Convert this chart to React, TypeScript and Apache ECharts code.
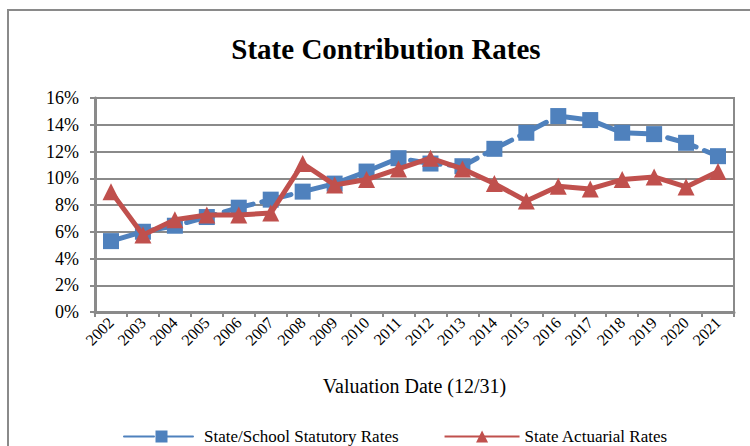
import React, { useEffect, useRef } from "react";
import * as echarts from "echarts";

const years = ["2002","2003","2004","2005","2006","2007","2008","2009","2010","2011","2012","2013","2014","2015","2016","2017","2018","2019","2020","2021"];
const statutoryRates = [5.3, 6.0, 6.45, 7.1, 7.8, 8.4, 9.0, 9.6, 10.5, 11.5, 11.1, 10.9, 12.2, 13.4, 14.65, 14.35, 13.4, 13.3, 12.65, 11.65];
const actuarialRates = [9.0, 5.75, 6.9, 7.25, 7.25, 7.4, 11.1, 9.5, 9.9, 10.7, 11.5, 10.7, 9.6, 8.3, 9.4, 9.2, 9.9, 10.1, 9.35, 10.5];
const yTicks = { min: 0, max: 16, interval: 2 };

const SERIF = "Liberation Serif";

export default function App() {
  const ref = useRef<HTMLDivElement>(null);
  useEffect(() => {
    if (!ref.current) return;
    const chart = echarts.init(ref.current, null, { renderer: "svg" });
    chart.setOption({
      animation: false,
      backgroundColor: "#ffffff",
      textStyle: { fontFamily: SERIF, color: "#000" },
      title: {
        text: "State Contribution Rates",
        left: 381,
        textAlign: "center",
        top: 29,
        textStyle: { fontFamily: SERIF, fontWeight: "bold", fontSize: 29, color: "#000" },
      },
      graphic: [
        {
          type: "rect",
          shape: { x: 8, y: 10, width: 800, height: 500 },
          style: { fill: "none", stroke: "#8a8a8a", lineWidth: 2 },
          silent: true,
        },
      ],
      grid: {
        left: 95,
        right: 16,
        top: 98,
        bottom: 134,
        show: true,
        borderColor: "#8a8a8a",
        borderWidth: 2,
      },
      legend: {
        left: 118,
        top: 423,
        itemWidth: 75,
        itemHeight: 15,
        itemGap: 45,
        textStyle: { fontFamily: SERIF, fontSize: 17, color: "#000" },
        data: ["State/School Statutory Rates", "State Actuarial Rates"],
      },
      xAxis: {
        type: "category",
        data: years,
        boundaryGap: true,
        name: "Valuation Date (12/31)",
        nameLocation: "middle",
        nameGap: 64,
        nameTextStyle: { fontFamily: SERIF, fontSize: 20, color: "#000" },
        axisLine: { lineStyle: { color: "#8a8a8a", width: 3 } },
        axisTick: { show: true, length: 5, lineStyle: { color: "#8a8a8a", width: 2 } },
        axisLabel: { rotate: 45, fontFamily: SERIF, fontSize: 16, color: "#000", margin: 8, interval: 0 },
      },
      yAxis: {
        type: "value",
        min: yTicks.min,
        max: yTicks.max,
        interval: yTicks.interval,
        axisLine: { show: true, lineStyle: { color: "#8a8a8a", width: 3 } },
        axisTick: { show: true, length: 5, lineStyle: { color: "#8a8a8a", width: 2 } },
        axisLabel: { formatter: "{value}%", fontFamily: SERIF, fontSize: 18, color: "#000", margin: 16 },
        splitLine: { lineStyle: { color: "#8a8a8a", width: 2 } },
      },
      series: [
        {
          name: "State/School Statutory Rates",
          type: "line",
          data: statutoryRates,
          symbol: "rect",
          symbolSize: 16,
          itemStyle: { color: "#4F81BD" },
          lineStyle: { color: "#4F81BD", width: 5, type: [30, 9], cap: "round" },
          z: 2,
        },
        {
          name: "State Actuarial Rates",
          type: "line",
          data: actuarialRates,
          symbol: "triangle",
          symbolSize: 17,
          itemStyle: { color: "#C0504D" },
          lineStyle: { color: "#C0504D", width: 5 },
          z: 3,
        },
      ],
    });
    return () => chart.dispose();
  }, []);
  return (
    <div
      ref={ref}
      style={{ position: "fixed", left: 0, top: 0, width: 750, height: 446 }}
    />
  );
}
